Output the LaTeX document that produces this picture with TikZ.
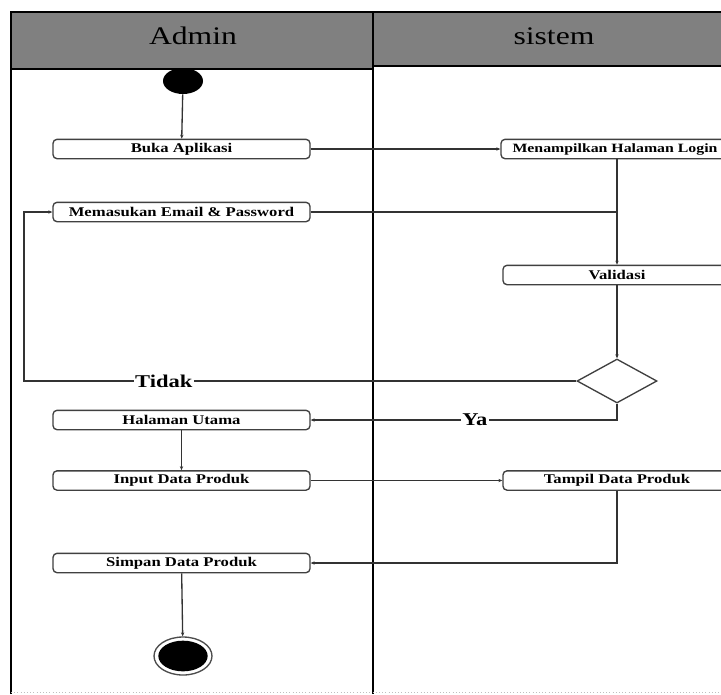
\documentclass[tikz,border=0pt]{standalone}
\usepackage{fontspec}
\setmainfont{Liberation Serif}[FakeStretch=1.25]
\usetikzlibrary{shapes.geometric,arrows.meta}

\begin{document}
\begin{tikzpicture}[x=0.75pt,y=-0.75pt,
    aksi/.style={draw=black!75, line width=1pt, rounded corners=3pt, minimum width=192.75pt, minimum height=14.5pt, inner sep=0pt, font=\fontsize{10}{12}\selectfont\bfseries},
    aksikanan/.style={aksi, minimum width=171pt},
    alur/.style={draw=black!80, line width=1pt, -{Stealth[length=3pt,width=2.5pt]}},
    garis/.style={draw=black!80, line width=1pt},
    cabang/.style={fill=white, inner sep=1pt, font=\fontsize{13.5}{16}\selectfont\bfseries},
    judul/.style={font=\fontsize{19}{22}\selectfont}]
    \clip (0,0) rectangle (721,694);
    \fill[white] (0,0) rectangle (721,694);

    %SWIMLANE
    \fill[black!50] (11,12) rectangle (373,69);
    \fill[black!50] (373,12) rectangle (740,66);
    \draw[line width=2pt] (11,694) -- (11,12) -- (740,12);
    \draw[line width=2pt] (373,12) -- (373,694);
    \draw[line width=2pt] (11,69) -- (373,69);
    \draw[line width=2pt] (373,66) -- (740,66);
    \draw[dotted, black!25] (11,692) -- (721,692);
    \node[judul] (admin) at (193,36) {Admin};
    \node[judul] (sistem) at (554,36) {sistem};

    %START
    \node[ellipse, fill=black, minimum width=30pt, minimum height=19.5pt, inner sep=0pt] (mulai) at (183,81) {};

    %ADMIN
    \node[aksi] (buka) at (181.5,149) {Buka Aplikasi};
    \node[aksi] (masuk) at (181.5,212) {Memasukan Email \& Password};
    \node[aksi] (utama) at (181.5,420) {Halaman Utama};
    \node[aksi] (input) at (181.5,480.5) {Input Data Produk};
    \node[aksi] (simpan) at (181.5,563) {Simpan Data Produk};

    %SISTEM
    \node[aksikanan, font=\fontsize{9.5}{12}\selectfont\bfseries] (login) at (615,149) {Menampilkan Halaman Login};
    \node[aksikanan] (validasi) at (617,275) {Validasi};
    \node[aksikanan] (tampil) at (617,480.5) {Tampil Data Produk};
    \node[diamond, draw=black!75, line width=1pt, minimum width=60pt, minimum height=33pt, inner sep=0pt] (cek) at (617,381) {};

    %END
    \node[ellipse, draw=black!70, line width=1pt, minimum width=43.5pt, minimum height=28.5pt, inner sep=0pt] (akhir) at (183,656) {};
    \fill (akhir.center) ellipse (18.5pt and 11.5pt);

    %FLOW
    \coordinate (kiri) at (24,381);
    \draw[alur] (mulai) -- (buka);
    \draw[alur] (buka) -- (login);
    \draw[alur] (login.south -| validasi) -- (validasi);
    \draw[garis] (masuk.east) -- (validasi.north |- masuk.east);
    \draw[alur] (validasi) -- (cek);
    \draw[alur] (cek.west) -- node[cabang, pos=0.747] (tidak) {Tidak} (kiri) |- (masuk.west);
    \draw[alur] (cek.south) |- node[cabang, pos=0.732] (ya) {Ya} (utama.east);
    \draw[alur] (utama) -- (input);
    \draw[alur] (input) -- (tampil);
    \draw[alur] (tampil.south) |- (simpan.east);
    \draw[alur] (simpan) -- (akhir);
\end{tikzpicture}
\end{document}
